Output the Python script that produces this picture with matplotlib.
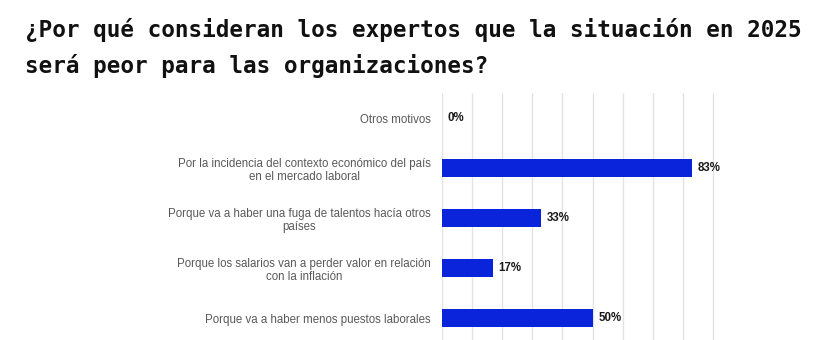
import matplotlib
matplotlib.use('Agg')
import matplotlib.pyplot as plt

# data (top to bottom)
labels = [
    'Otros motivos',
    'Por la incidencia del contexto económico del país\nen el mercado laboral',
    'Porque va a haber una fuga de talentos hacía otros\npaíses',
    'Porque los salarios van a perder valor en relación\ncon la inflación',
    'Porque va a haber menos puestos laborales',
]
values = [0, 83, 33, 17, 50]
value_labels = ['0%', '83%', '33%', '17%', '50%']
grid_ticks = [0, 10, 20, 30, 40, 50, 60, 70, 80, 90]

title_1 = '¿Por qué consideran los expertos que la situación en 2025'
title_2 = 'será peor para las organizaciones?'

W, H = 825, 340
fig = plt.figure(figsize=(W / 100, H / 100), dpi=100)

# axes placed in pixel terms (10% ~ 30.18 px)
xmax = 90.5
left, top, bottom = 441.7, 93.3, 343.0
right = left + xmax * 3.018
ax = fig.add_axes([left / W, 1 - bottom / H, (right - left) / W, (bottom - top) / H])

ypos = list(range(len(labels)))
ax.barh(ypos, values, height=0.36, color='#0a24dc', linewidth=0, zorder=3)

ax.set_xlim(0, xmax)
ax.set_ylim(len(labels) - 0.5, -0.5)
ax.set_xticks(grid_ticks)
ax.grid(axis='x', color='#e3e3e3', linewidth=1.0, zorder=0)
ax.tick_params(axis='both', length=0, labelbottom=False)
for s in ax.spines.values():
    s.set_visible(False)

ax.set_yticks(ypos)
ax.set_yticklabels(labels, fontsize=8.3, color='#595959', family='Liberation Sans',
                   linespacing=1.15, multialignment='center')
ax.tick_params(axis='y', pad=8)

for y, v, txt in zip(ypos, values, value_labels):
    ax.text(v + 1.9, y, txt, ha='left', va='center', fontsize=8.3,
            fontweight='bold', color='#1a1a1a', family='Liberation Sans',
            clip_on=False)

fig.text(25 / W, 1 - 37.5 / H, title_1, ha='left', va='baseline',
         family='DejaVu Sans Mono', fontweight='bold', fontsize=16.3, color='#111111')
fig.text(25 / W, 1 - 73.5 / H, title_2, ha='left', va='baseline',
         family='DejaVu Sans Mono', fontweight='bold', fontsize=16.3, color='#111111')

fig.savefig('out.png', dpi=100, facecolor='white')
